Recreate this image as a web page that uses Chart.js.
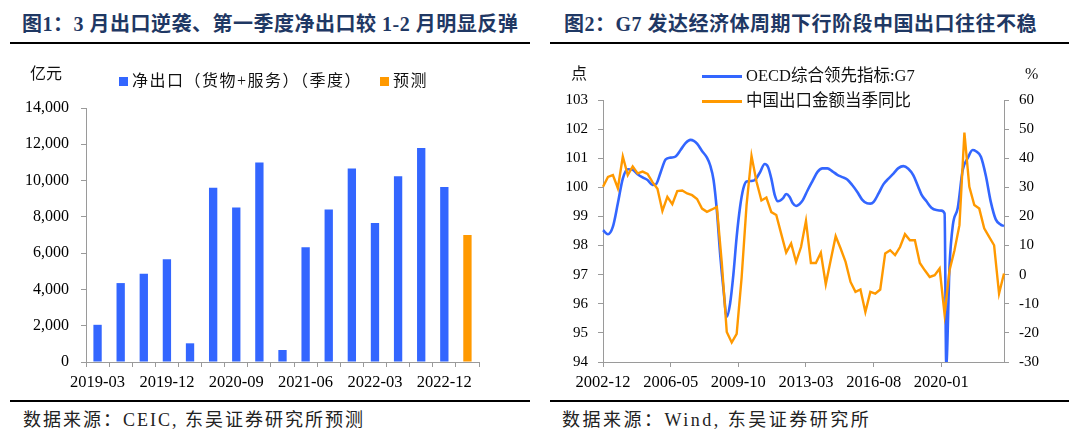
<!DOCTYPE html>
<html>
<head>
<meta charset="utf-8">
<script src="https://cdn.jsdelivr.net/npm/chart.js@4.4.1/dist/chart.umd.min.js"></script>
<style>
  body { margin: 0; width: 1080px; height: 442px; background: #fff; position: relative; overflow: hidden;
         font-family: 'Liberation Serif', 'Noto Sans CJK SC', serif; color: #111; }
  .t { position: absolute; white-space: nowrap; }
  .title { font-size: 20px; line-height: 20px; font-weight: bold; color: #1f3864; top: 14px; letter-spacing: 0.5px; }
  .rule { position: absolute; height: 2px; background: #000; }
  .src { font-size: 18px; line-height: 18px; top: 411px; color: #222; letter-spacing: 2.5px; }
  .unit { font-size: 16px; line-height: 16px; top: 66px; }
  .leg { font-size: 16px; line-height: 16px; }
  .box { position: absolute; width: 9px; height: 9px; }
  .ln { position: absolute; width: 40px; height: 3px; }
  canvas { position: absolute; top: 0; }
</style>
</head>
<body>
<div class="t title" style="left:22px">图1：3 月出口逆袭、第一季度净出口较 1-2 月明显反弹</div>
<div class="t title" style="left:564px">图2：G7 发达经济体周期下行阶段中国出口往往不稳</div>
<div class="rule" style="left:10px;top:42px;width:520px"></div>
<div class="rule" style="left:550px;top:42px;width:519px"></div>
<div class="rule" style="left:10px;top:400px;width:520px"></div>
<div class="rule" style="left:550px;top:400px;width:519px"></div>
<div class="t src" style="left:23px;letter-spacing:2px">数据来源：CEIC, 东吴证券研究所预测</div>
<div class="t src" style="left:562px">数据来源：Wind, 东吴证券研究所</div>

<canvas id="c1" width="540" height="442" style="left:0"></canvas>
<canvas id="c2" width="540" height="442" style="left:540px"></canvas>

<div class="t unit" style="left:30px">亿元</div>
<div class="box" style="left:119px;top:77px;background:#3366ff"></div>
<div class="t leg" style="left:132px;top:73px;letter-spacing:1.5px">净出口（货物+服务）（季度）</div>
<div class="box" style="left:380px;top:77px;background:#ff9900"></div>
<div class="t leg" style="left:393px;top:73px;letter-spacing:1.5px">预测</div>

<div class="t unit" style="left:571px">点</div>
<div class="t unit" style="left:1025px">%</div>
<div class="ln" style="left:702px;top:75px;background:#3366ff"></div>
<div class="t leg" style="left:746px;top:68px;font-size:16.5px;line-height:16px">OECD综合领先指标:G7</div>
<div class="ln" style="left:702px;top:100px;background:#ff9900"></div>
<div class="t leg" style="left:746px;top:93px;font-size:16.5px;line-height:16px">中国出口金额当季同比</div>

<script>
// chart 1: quarterly net exports
const quarters = ['2019-03','2019-06','2019-09','2019-12','2020-03','2020-06','2020-09','2020-12',
  '2021-03','2021-06','2021-09','2021-12','2022-03','2022-06','2022-09','2022-12','2023-03'];
const netExport = [2050, 4350, 4870, 5670, 1030, 9600, 8520, 10990, 660, 6330, 8400, 10660,
  7660, 10240, 11790, 9650, null];
const forecast = [null, null, null, null, null, null, null, null, null, null, null, null,
  null, null, null, null, 7000];

// chart 2: monthly axis 2002-12 .. 2023-03
const monthLabels = [];
for (let i = 0; i < 244; i++) {
  const t = 2002 * 12 + 11 + i;
  monthLabels.push(Math.floor(t / 12) + '-' + String(t % 12 + 1).padStart(2, '0'));
}
// OECD CLI G7, read at these months (offset from 2002-12)
const cliMonth = [0,3,6,9,12,15,18,21,24,27,30,32,35,38,41,44,47,50,53,55,57,60,63,65,67,69,71,73,75,77,
  79,81,83,85,87,90,92,95,98,100,102,104,106,109,111,113,115,117,119,121,124,127,130,133,136,139,142,145,
  148,151,154,157,160,162,164,167,170,173,176,179,182,185,188,191,193,196,199,202,205,207,208,210,212,215,
  218,221,224,226,229,232,235,238,241,243];
const cliValue = [98.53,98.39,98.65,99.45,100.3,100.62,100.6,100.45,100.34,100.25,100.08,100.1,100.53,100.96,
  101.02,101.06,101.28,101.52,101.63,101.6,101.5,101.25,101.02,100.75,100.25,99.2,97.7,96.5,95.55,96.0,
  97.0,98.3,99.3,99.95,100.2,100.22,100.25,100.5,100.8,100.7,100.3,99.75,99.52,99.62,99.77,99.68,99.45,
  99.36,99.42,99.55,99.9,100.22,100.53,100.65,100.65,100.55,100.43,100.35,100.27,100.08,99.85,99.58,99.45,
  99.44,99.5,99.79,100.11,100.3,100.47,100.66,100.73,100.64,100.42,100.02,99.75,99.52,99.3,99.22,99.2,
  99.1,93.9,97.3,98.7,99.3,100.6,101.0,101.28,101.24,101.05,100.4,99.5,98.9,98.72,98.67];
// China export yoy, quarterly, starting 2002-12
const exportYoy = [30.2,33.6,34.2,29.7,40.6,34.2,37.2,34.8,35.4,34.6,31.8,29.5,21.9,26.7,24.2,28.7,28.9,
  27.9,27.3,26.0,22.7,21.6,22.4,23.3,4.0,-19.7,-23.3,-20.3,-1.0,24.0,40.8,32.0,25.5,26.5,21.5,20.5,14.0,
  7.6,10.7,4.4,9.5,18.5,4.0,4.0,7.5,-3.3,5.0,13.2,9.0,4.4,-2.5,-5.9,-5.1,-12.8,-5.9,-6.5,-5.1,7.3,8.4,
  6.7,9.5,13.9,11.8,11.8,4.0,1.5,-0.8,-0.2,2.1,-13.6,1.5,8.4,17.0,48.8,30.2,23.9,22.7,15.9,13.0,10.1,-6.5,0.4];
const xTickEvery = 41;

const axisGrey = '#9a9a9a';
const xFont = { family: "'Liberation Serif', serif", size: 16.5 };

new Chart(document.getElementById('c1'), {
  type: 'bar',
  data: {
    labels: quarters,
    datasets: [
      { label: '净出口（货物+服务）（季度）', data: netExport, backgroundColor: '#3366ff', grouped: false },
      { label: '预测', data: forecast, backgroundColor: '#ff9900', grouped: false },
    ],
  },
  options: {
    responsive: false,
    animation: false,
    barPercentage: 0.36,
    categoryPercentage: 1,
    layout: { padding: { left: 0, right: 61, top: 108, bottom: 50 } },
    plugins: { legend: { display: false }, tooltip: { enabled: false } },
    scales: {
      x: {
        afterFit: (s) => { s.height = 30; },
        border: { color: axisGrey },
        grid: { drawOnChartArea: false, tickLength: 5, color: axisGrey },
        ticks: {
          autoSkip: false, maxRotation: 0, padding: 6, color: '#000', font: xFont,
          callback: function (v, i) { return i % 3 === 0 ? this.getLabelForValue(v) : ''; },
        },
      },
      y: {
        min: 0, max: 14000,
        afterFit: (s) => { s.width = 86; },
        border: { color: axisGrey },
        grid: { drawOnChartArea: false, tickLength: 5, color: axisGrey },
        ticks: { stepSize: 2000, padding: 12, color: '#000',
          font: { family: "'Liberation Serif', serif", size: 16 },
          callback: (v) => v.toLocaleString('en-US') },
      },
    },
  },
});

new Chart(document.getElementById('c2'), {
  type: 'line',
  data: {
    labels: monthLabels,
    datasets: [
      {
        label: 'OECD综合领先指标:G7',
        data: cliMonth.map((m, i) => ({ x: monthLabels[m], y: cliValue[i] })),
        borderColor: '#3366ff', borderWidth: 2.6, pointRadius: 0,
        cubicInterpolationMode: 'monotone', yAxisID: 'y', order: 1,
      },
      {
        label: '中国出口金额当季同比',
        data: exportYoy.map((v, i) => ({ x: monthLabels[i * 3], y: v })),
        borderColor: '#ff9900', borderWidth: 2.4, pointRadius: 0, tension: 0,
        yAxisID: 'y1', order: 0,
      },
    ],
  },
  options: {
    responsive: false,
    animation: false,
    layout: { padding: { left: 0, right: 0, top: 100, bottom: 50 } },
    plugins: { legend: { display: false }, tooltip: { enabled: false } },
    scales: {
      x: {
        offset: false,
        afterFit: (s) => { s.height = 30; },
        afterBuildTicks: (s) => { s.ticks = s.ticks.filter((t) => t.value % xTickEvery === 0); },
        border: { color: axisGrey },
        grid: { drawOnChartArea: false, tickLength: 5, color: axisGrey, offset: false },
        ticks: { autoSkip: false, maxRotation: 0, padding: 6, color: '#000', font: xFont },
      },
      y: {
        position: 'left', min: 94, max: 103,
        afterFit: (s) => { s.width = 63; },
        border: { color: axisGrey },
        grid: { drawOnChartArea: false, tickLength: 5, color: axisGrey },
        ticks: { stepSize: 1, padding: 10, color: '#000', font: { family: "'Liberation Serif', serif", size: 15 } },
      },
      y1: {
        position: 'right', min: -30, max: 60,
        afterFit: (s) => { s.width = 76; },
        border: { color: axisGrey },
        grid: { drawOnChartArea: false, tickLength: 5, color: axisGrey },
        ticks: { stepSize: 10, padding: 10, color: '#000', font: { family: "'Liberation Serif', serif", size: 15 } },
      },
    },
  },
});
</script>
</body>
</html>
